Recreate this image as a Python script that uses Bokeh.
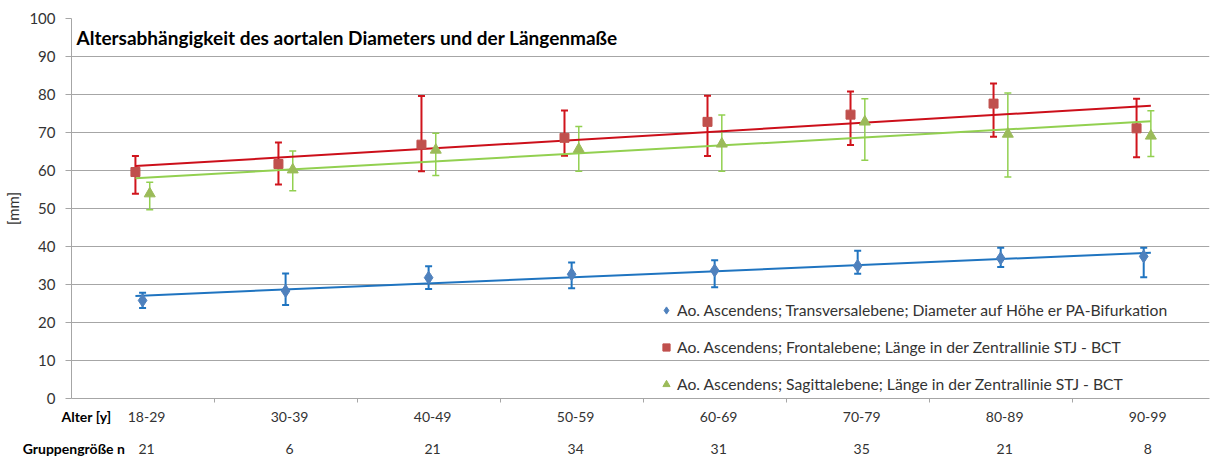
import numpy as np
from bokeh.plotting import figure
from bokeh.models import (ColumnDataSource, Whisker, TeeHead, Legend, LegendItem,
                          Label, FixedTicker, Range1d, LinearAxis)
from bokeh.embed import file_html
from bokeh.resources import INLINE

age_groups = ["18-29", "30-39", "40-49", "50-59", "60-69", "70-79", "80-89", "90-99"]
group_n = ["21", "6", "21", "34", "31", "35", "21", "8"]

trans_mean = [25.8, 28.3, 31.8, 32.7, 33.7, 34.9, 36.9, 37.4]
trans_upper = [27.8, 32.9, 34.8, 35.8, 36.4, 38.9, 39.7, 39.7]
trans_lower = [23.8, 24.6, 28.8, 29.0, 29.3, 32.8, 34.6, 31.9]

front_mean = [59.6, 61.7, 66.8, 68.6, 72.8, 74.7, 77.6, 71.1]
front_upper = [63.8, 67.4, 79.6, 75.8, 79.7, 80.8, 82.9, 78.9]
front_lower = [53.9, 56.3, 59.8, 63.9, 63.8, 66.7, 68.9, 63.5]

sag_mean = [53.9, 60.2, 65.4, 65.6, 67.0, 72.8, 69.6, 69.1]
sag_upper = [56.9, 65.1, 69.8, 71.6, 74.6, 78.9, 80.4, 75.7]
sag_lower = [49.7, 54.7, 58.7, 59.8, 59.8, 62.7, 58.3, 63.7]

labels = ["Ao. Ascendens; Transversalebene; Diameter auf Höhe er PA-Bifurkation",
          "Ao. Ascendens; Frontalebene; Länge in der Zentrallinie STJ - BCT",
          "Ao. Ascendens; Sagittalebene; Länge in der Zentrallinie STJ - BCT"]
title_text = "Altersabhängigkeit des aortalen Diameters und der Längenmaße"
row1_title = "Alter [y]"
row2_title = "Gruppengröße  n"

FONT = "Lato"
TXT = "#333333"
GRID = "#a6a6a6"

FW, LEFT, RIGHT = 1138, 71, 2
X0, X1 = -0.497, 7.46
scale = FW / (X1 - X0)
p = figure(frame_width=FW, frame_height=380,
           x_range=Range1d(X0, X1), y_range=Range1d(0, 100),
           x_axis_location=None,
           output_backend="svg", toolbar_location=None,
           min_border_left=LEFT, min_border_right=RIGHT, min_border_top=18, min_border_bottom=58)
p.outline_line_color = None
p.xgrid.visible = False
p.ygrid.grid_line_color = GRID
p.ygrid.grid_line_width = 1
p.yaxis.ticker = FixedTicker(ticks=list(range(0, 101, 10)))
p.yaxis.axis_line_color = GRID
p.yaxis.major_tick_line_color = GRID
p.yaxis.major_tick_out = 6
p.yaxis.major_tick_in = 0
p.yaxis.minor_tick_line_color = None
p.yaxis.major_label_text_font = FONT
p.yaxis.major_label_text_font_size = "15px"
p.yaxis.major_label_text_color = TXT
p.yaxis.major_label_standoff = 10
p.yaxis.axis_label = "[mm]"
p.yaxis.axis_label_text_font = FONT
p.yaxis.axis_label_text_font_size = "15px"
p.yaxis.axis_label_text_font_style = "normal"
p.yaxis.axis_label_text_color = TXT
p.yaxis.axis_label_standoff = 4

x = np.arange(len(age_groups))
series = [
    (trans_mean, trans_upper, trans_lower, 0.0, "diamond", 13, "#4f81bd", "#1f74c0", "#1f74c0", 2),
    (front_mean, front_upper, front_lower, -0.05, "square", 9, "#c0504d", "#d0141c", "#cc0f1a", 2),
    (sag_mean, sag_upper, sag_lower, 0.05, "triangle", 11, "#9bbb59", "#92d050", "#92d050", 1.5),
]
renderers = []
for mean, up, lo, off, mk, sz, mcol, ecol, tcol, ew in series:
    xs = x + off
    src = ColumnDataSource(dict(x=xs, upper=up, lower=lo))
    w = Whisker(source=src, base="x", upper="upper", lower="lower",
                line_color=ecol, line_width=ew,
                upper_head=TeeHead(size=7, line_color=ecol, line_width=ew),
                lower_head=TeeHead(size=7, line_color=ecol, line_width=ew))
    p.add_layout(w)
    # linear trend line fitted to the series
    k, d = np.polyfit(x, mean, 1)
    tx = np.array([-0.05, 7.05])
    p.line(tx, k * tx + d, line_color=tcol, line_width=2)
    r = p.scatter(xs, mean, marker=mk, size=sz, fill_color=mcol, line_color=mcol)
    renderers.append(r)

legend = Legend(items=[LegendItem(label=l, renderers=[r]) for l, r in zip(labels, renderers)],
                location=(586, 5), orientation="vertical",
                background_fill_alpha=0, border_line_color=None,
                padding=0, margin=0, spacing=19,
                glyph_width=18, glyph_height=18, label_height=18,
                label_standoff=2, label_text_font=FONT, label_text_font_size="15.7px",
                label_text_color=TXT)
p.add_layout(legend)

p.add_layout(Label(x=X0, y=95, x_offset=5, text=title_text, text_font=FONT,
                   text_font_size="19px", text_font_style="bold", text_color="#000000",
                   text_baseline="middle"))


def bottom_axis(ticks, texts, bold, standoff, size, minor=None, line=None, tick_out=0):
    tk = FixedTicker(ticks=list(ticks), minor_ticks=list(minor) if minor is not None else [])
    ax = LinearAxis(ticker=tk, major_label_overrides={t: s for t, s in zip(ticks, texts)},
                    axis_line_color=line, major_tick_line_color=None,
                    minor_tick_line_color=GRID if minor is not None else None,
                    major_tick_out=0, major_tick_in=0, minor_tick_out=tick_out, minor_tick_in=0,
                    major_label_standoff=standoff,
                    major_label_text_font=FONT, major_label_text_font_size=size,
                    major_label_text_font_style="bold" if bold else "normal",
                    major_label_text_color="#000000" if bold else TXT)
    p.add_layout(ax, "below")
    return ax


shift = 4 / scale  # labels sit slightly right of the category centre
label_pos = [float(v) + shift for v in x]
bounds = [float(v) - 0.5 for v in x]
t_row1 = X0 + 15 / scale
t_row2 = X0 + 4 / scale
bottom_axis(label_pos, age_groups, False, 9, "14px", minor=bounds, line=GRID, tick_out=4)
bottom_axis([t_row1], [row1_title], True, -17, "14px")
bottom_axis(label_pos, group_n, False, 16, "14px")
bottom_axis([t_row2], [row2_title], True, -17, "14px")

open("out.html", "w").write(file_html(p, INLINE))
